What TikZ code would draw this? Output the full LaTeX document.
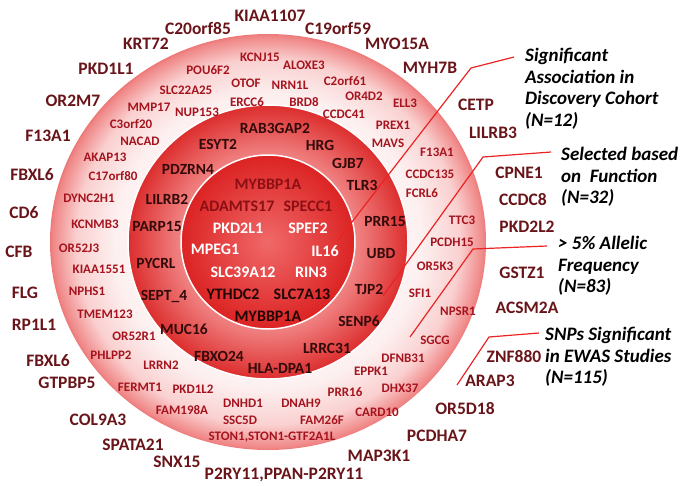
\documentclass[tikz,border=0pt]{standalone}
\usepackage{fontspec}
\setmainfont{Carlito}
\usepackage{tikz}

\definecolor{outc}{RGB}{105,20,25}
\definecolor{ringtc}{RGB}{165,20,30}
\definecolor{midtc}{RGB}{50,10,10}
\definecolor{intop}{RGB}{140,15,20}
\definecolor{inbot}{RGB}{35,5,5}
\definecolor{leadc}{RGB}{235,35,35}
\definecolor{rim}{RGB}{215,22,22}
\definecolor{ringa}{RGB}{253,240,240}
\definecolor{ringb}{RGB}{250,208,208}
\definecolor{ringc}{RGB}{240,135,135}
\definecolor{ringd}{RGB}{225,55,55}
\definecolor{midin}{RGB}{238,120,120}
\definecolor{incen}{RGB}{240,105,105}
\definecolor{inedge}{RGB}{218,28,28}

\pgfdeclareradialshading{outring}{\pgfpoint{0bp}{0bp}}{color(0bp)=(white); color(17.6bp)=(ringa); color(22bp)=(ringb); color(24.7bp)=(ringc); color(26.4bp)=(ringd); color(27.5bp)=(rim); color(50bp)=(rim)}
\pgfdeclareradialshading{midring}{\pgfpoint{0bp}{0bp}}{color(0bp)=(white); color(17bp)=(midin); color(27.5bp)=(rim); color(50bp)=(rim)}
\pgfdeclareradialshading{inring}{\pgfpoint{0bp}{0bp}}{color(0bp)=(incen); color(27.5bp)=(inedge); color(50bp)=(inedge)}

\begin{document}
\begin{tikzpicture}
  [x=1pt,y=-1pt,every node/.style={inner sep=0pt,font=\bfseries},
   outlbl/.style={text=outc,font=\bfseries\fontsize{17.5}{20}\selectfont},
   ringlbl/.style={text=ringtc,font=\bfseries\fontsize{13}{15}\selectfont},
   midlbl/.style={text=midtc,font=\bfseries\fontsize{15.5}{18}\selectfont},
   inlbl/.style={font=\bfseries\fontsize{16}{18}\selectfont},
   legend/.style={anchor=north west,align=left,font=\bfseries\itshape\fontsize{19}{21.6}\selectfont},
   lead/.style={draw=leadc,line width=1.2pt}]
  \useasboundingbox (0,0) rectangle (683,485);
  \coordinate (ctr) at (268,242);

  \shade[shading=outring] (ctr) ellipse [x radius=218,y radius=208];
  \shade[shading=midring] (ctr) ellipse [x radius=140,y radius=137];
  \draw[white,line width=1.5pt] (ctr) ellipse [x radius=140,y radius=137];
  \shade[shading=inring] (ctr) ellipse [x radius=87,y radius=87];
  \draw[white,line width=1.5pt] (ctr) ellipse [x radius=87,y radius=87];

  \node[outlbl] (o1) at (270,16) {KIAA1107};
  \node[outlbl] (o2) at (198,28) {C20orf85};
  \node[outlbl] (o3) at (338,28) {C19orf59};
  \node[outlbl] (o4) at (146,44) {KRT72};
  \node[outlbl] (o5) at (397,44) {MYO15A};
  \node[outlbl] (o6) at (106,69) {PKD1L1};
  \node[outlbl] (o7) at (430,68) {MYH7B};
  \node[outlbl] (o8) at (73,101) {OR2M7};
  \node[outlbl] (o9) at (476,105) {CETP};
  \node[outlbl] (o10) at (48,136) {F13A1};
  \node[outlbl] (o11) at (493,133) {LILRB3};
  \node[outlbl] (o12) at (32,175) {FBXL6};
  \node[outlbl] (o13) at (519,173) {CPNE1};
  \node[outlbl] (o14) at (24,213) {CD6};
  \node[outlbl] (o15) at (523,200) {CCDC8};
  \node[outlbl] (o16) at (19,252) {CFB};
  \node[outlbl] (o17) at (527,227) {PKD2L2};
  \node[outlbl] (o18) at (25,293) {FLG};
  \node[outlbl] (o19) at (522,273) {GSTZ1};
  \node[outlbl] (o20) at (34,325) {RP1L1};
  \node[outlbl] (o21) at (527,308) {ACSM2A};
  \node[outlbl] (o22) at (48,361) {FBXL6};
  \node[outlbl] (o23) at (514,357) {ZNF880};
  \node[outlbl] (o24) at (490,381) {ARAP3};
  \node[outlbl] (o25) at (67,383) {GTPBP5};
  \node[outlbl] (o26) at (465,409) {OR5D18};
  \node[outlbl] (o27) at (98,420) {COL9A3};
  \node[outlbl] (o28) at (437,436) {PCDHA7};
  \node[outlbl] (o29) at (133,445) {SPATA21};
  \node[outlbl] (o30) at (379,456) {MAP3K1};
  \node[outlbl] (o31) at (177,462) {SNX15};
  \node[outlbl] (o32) at (284,475) {P2RY11,PPAN-P2RY11};

  \node[ringlbl] (r1) at (260,57) {KCNJ15};
  \node[ringlbl] (r2) at (208,70) {POU6F2};
  \node[ringlbl] (r3) at (304,65) {ALOXE3};
  \node[ringlbl] (r4) at (246,83) {OTOF};
  \node[ringlbl] (r5) at (290,85) {NRN1L};
  \node[ringlbl] (r6) at (186,90) {SLC22A25};
  \node[ringlbl] (r7) at (345,81) {C2orf61};
  \node[ringlbl] (r8) at (247,102) {ERCC6};
  \node[ringlbl] (r9) at (304,102) {BRD8};
  \node[ringlbl] (r10) at (364,96) {OR4D2};
  \node[ringlbl] (r11) at (405,103) {ELL3};
  \node[ringlbl] (r12) at (149,107) {MMP17};
  \node[ringlbl] (r13) at (197,112) {NUP153};
  \node[ringlbl] (r14) at (344,114) {CCDC41};
  \node[ringlbl] (r15) at (131,124) {C3orf20};
  \node[ringlbl] (r16) at (393,125) {PREX1};
  \node[ringlbl] (r17) at (140,141) {NACAD};
  \node[ringlbl] (r18) at (388,143) {MAVS};
  \node[ringlbl] (r19) at (437,152) {F13A1};
  \node[ringlbl] (r20) at (105,157) {AKAP13};
  \node[ringlbl] (r21) at (113,176) {C17orf80};
  \node[ringlbl] (r22) at (430,174) {CCDC135};
  \node[ringlbl] (r23) at (422,193) {FCRL6};
  \node[ringlbl] (r24) at (89,198) {DYNC2H1};
  \node[ringlbl] (r25) at (95,224) {KCNMB3};
  \node[ringlbl] (r26) at (462,220) {TTC3};
  \node[ringlbl] (r27) at (452,242) {PCDH15};
  \node[ringlbl] (r28) at (79,248) {OR52J3};
  \node[ringlbl] (r29) at (435,266) {OR5K3};
  \node[ringlbl] (r30) at (99,269) {KIAA1551};
  \node[ringlbl] (r31) at (87,291) {NPHS1};
  \node[ringlbl] (r32) at (420,293) {SFI1};
  \node[ringlbl] (r33) at (458,311) {NPSR1};
  \node[ringlbl] (r34) at (105,314) {TMEM123};
  \node[ringlbl] (r35) at (134,336) {OR52R1};
  \node[ringlbl] (r36) at (435,340) {SGCG};
  \node[ringlbl] (r37) at (111,355) {PHLPP2};
  \node[ringlbl] (r38) at (161,365) {LRRN2};
  \node[ringlbl] (r39) at (403,358) {DFNB31};
  \node[ringlbl] (r40) at (371,371) {EPPK1};
  \node[ringlbl] (r41) at (140,387) {FERMT1};
  \node[ringlbl] (r42) at (193,389) {PKD1L2};
  \node[ringlbl] (r43) at (400,388) {DHX37};
  \node[ringlbl] (r44) at (345,392) {PRR16};
  \node[ringlbl] (r45) at (243,403) {DNHD1};
  \node[ringlbl] (r46) at (301,403) {DNAH9};
  \node[ringlbl] (r47) at (182,410) {FAM198A};
  \node[ringlbl] (r48) at (377,412) {CARD10};
  \node[ringlbl] (r49) at (240,420) {SSC5D};
  \node[ringlbl] (r50) at (322,420) {FAM26F};
  \node[ringlbl] (r51) at (272,437) {STON1,STON1-GTF2A1L};

  \node[midlbl] (m1) at (275,128) {RAB3GAP2};
  \node[midlbl] (m2) at (218,144) {ESYT2};
  \node[midlbl] (m3) at (320,145) {HRG};
  \node[midlbl] (m4) at (188,169) {PDZRN4};
  \node[midlbl] (m5) at (348,163) {GJB7};
  \node[midlbl] (m6) at (362,185) {TLR3};
  \node[midlbl] (m7) at (167,199) {LILRB2};
  \node[midlbl] (m8) at (157,227) {PARP15};
  \node[midlbl] (m9) at (385,222) {PRR15};
  \node[midlbl] (m10) at (156,263) {PYCRL};
  \node[midlbl] (m11) at (381,254) {UBD};
  \node[midlbl] (m12) at (164,296) {SEPT\_4};
  \node[midlbl] (m13) at (369,289) {TJP2};
  \node[midlbl] (m14) at (184,329) {MUC16};
  \node[midlbl] (m15) at (359,321) {SENP6};
  \node[midlbl] (m16) at (219,356) {FBXO24};
  \node[midlbl] (m17) at (327,348) {LRRC31};
  \node[midlbl] (m18) at (280,368) {HLA-DPA1};

  \node[inlbl,text=intop] (c1) at (268,184) {MYBBP1A};
  \node[inlbl,text=intop] (c2) at (237,206) {ADAMTS17};
  \node[inlbl,text=intop] (c3) at (308,206) {SPECC1};
  \node[inlbl,text=white] (c4) at (238,228) {PKD2L1};
  \node[inlbl,text=white] (c5) at (308,228) {SPEF2};
  \node[inlbl,text=white] (c6) at (215,249) {MPEG1};
  \node[inlbl,text=white] (c7) at (325,251) {IL16};
  \node[inlbl,text=white] (c8) at (243,272) {SLC39A12};
  \node[inlbl,text=white] (c9) at (311,272) {RIN3};
  \node[inlbl,text=inbot] (c10) at (233,294) {YTHDC2};
  \node[inlbl,text=inbot] (c11) at (302,294) {SLC7A13};
  \node[inlbl,text=inbot] (c12) at (268,316) {MYBBP1A};

  \node[legend] (lg1) at (525,48) {Significant\\Association in\\Discovery Cohort\\(N=12)};
  \node[legend] (lg2) at (561,147) {Selected based\\on~ Function\\(N=32)};
  \node[legend] (lg3) at (558,236) {> 5\% Allelic\\Frequency\\(N=83)};
  \node[legend] (lg4) at (545,327) {SNPs Significant\\in EWAS Studies\\(N=115)};

  \coordinate (s1) at (514,57);
  \coordinate (b1) at (471,68);
  \coordinate (e1) at (338,240);
  \coordinate (s2) at (551,152);
  \coordinate (b2) at (483,157);
  \coordinate (e2) at (383,296);
  \coordinate (s3) at (547,246);
  \coordinate (b3) at (473,249);
  \coordinate (e3) at (410,337);
  \coordinate (s4) at (539,333);
  \coordinate (b4) at (489,337);
  \coordinate (e4) at (457,385);

  \draw[lead] (s1) -- (b1) -- (e1);
  \draw[lead] (s2) -- (b2) -- (e2);
  \draw[lead] (s3) -- (b3) -- (e3);
  \draw[lead] (s4) -- (b4) -- (e4);
\end{tikzpicture}
\end{document}
